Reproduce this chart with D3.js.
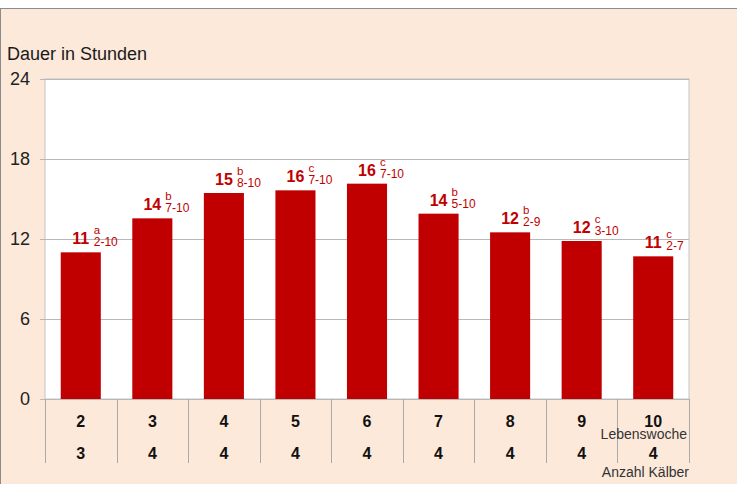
<!DOCTYPE html>
<html>
<head>
<meta charset="utf-8">
<script src="https://cdn.jsdelivr.net/npm/d3@7"></script>
<style>
  body { margin: 0; background: #fff; }
  text { font-family: "Liberation Sans", Arial, sans-serif; }
</style>
</head>
<body>
<div id="chart"></div>
<script>
// data
const weeks = ["2", "3", "4", "5", "6", "7", "8", "9", "10"];
const calves = ["3", "4", "4", "4", "4", "4", "4", "4", "4"];
const hours = [11.0, 13.55, 15.45, 15.65, 16.15, 13.9, 12.5, 11.85, 10.7];
const hourLabels = ["11", "14", "15", "16", "16", "14", "12", "12", "11"];
const letters = ["a", "b", "b", "c", "c", "b", "b", "c", "c"];
const ranges = ["2-10", "7-10", "8-10", "7-10", "7-10", "5-10", "2-9", "3-10", "2-7"];
const yTicks = [0, 6, 12, 18, 24];

const svgWidth = 737;
const svgHeight = 484;
const margin = { top: 79, right: 48, bottom: 85, left: 45 };
const width = svgWidth - margin.left - margin.right;
const height = svgHeight - margin.top - margin.bottom;

const svg = d3.select("#chart")
    .append("svg")
    .attr("width", svgWidth)
    .attr("height", svgHeight);

// peach frame
svg.append("rect")
    .attr("x", 0.5)
    .attr("y", 8.5)
    .attr("width", svgWidth + 2)
    .attr("height", svgHeight)
    .attr("fill", "#FDE9DA")
    .attr("stroke", "#8c8c8c")
    .attr("stroke-width", 1);

svg.append("text")
    .attr("x", 7)
    .attr("y", 60)
    .attr("font-size", "18px")
    .attr("fill", "#1a1a1a")
    .text("Dauer in Stunden");

const g = svg.append("g")
    .attr("transform", `translate(${margin.left},${margin.top})`);

const x = d3.scaleBand()
    .domain(weeks)
    .range([0, width])
    .paddingInner(0.44)
    .paddingOuter(0.22);

const y = d3.scaleLinear()
    .domain([0, 24])
    .range([height, 0]);

// plot area
g.append("rect")
    .attr("width", width)
    .attr("height", height)
    .attr("fill", "#fff")
    .attr("stroke", "#c4c4c4");

// grid
g.selectAll(".grid")
    .data(yTicks)
    .enter().append("line")
    .attr("x1", -5)
    .attr("x2", width)
    .attr("y1", d => Math.round(y(d)) + 0.5)
    .attr("y2", d => Math.round(y(d)) + 0.5)
    .attr("stroke", "#b8b8b8")
    .attr("stroke-width", 1);

g.selectAll(".ylab")
    .data(yTicks)
    .enter().append("text")
    .attr("x", -15)
    .attr("y", d => y(d))
    .attr("dy", "0.36em")
    .attr("text-anchor", "end")
    .attr("font-size", "18px")
    .attr("fill", "#222")
    .text(d => d);

// bars
g.selectAll(".bar")
    .data(hours)
    .enter().append("rect")
    .attr("x", (d, i) => x(weeks[i]))
    .attr("y", d => y(d))
    .attr("width", x.bandwidth())
    .attr("height", d => height - y(d))
    .attr("fill", "#C00000");

// value labels
const lab = g.selectAll(".lab")
    .data(hours)
    .enter().append("g")
    .attr("transform", (d, i) => `translate(${x(weeks[i]) + x.bandwidth() / 2},${y(d)})`);

lab.append("text")
    .attr("y", -8)
    .attr("text-anchor", "middle")
    .attr("font-size", "16px")
    .attr("font-weight", "bold")
    .attr("fill", "#C00000")
    .text((d, i) => hourLabels[i]);

lab.append("text")
    .attr("x", 13)
    .attr("y", -18)
    .attr("font-size", "11.5px")
    .attr("fill", "#C00000")
    .text((d, i) => letters[i]);

lab.append("text")
    .attr("x", 13)
    .attr("y", -6)
    .attr("font-size", "12px")
    .attr("fill", "#C00000")
    .text((d, i) => ranges[i]);

// category table below
const step = width / weeks.length;
g.selectAll(".sep")
    .data(d3.range(weeks.length + 1))
    .enter().append("line")
    .attr("x1", d => Math.round(d * step) + 0.5)
    .attr("x2", d => Math.round(d * step) + 0.5)
    .attr("y1", height)
    .attr("y2", height + 64)
    .attr("stroke", "#aaa");

g.selectAll(".week")
    .data(weeks)
    .enter().append("text")
    .attr("x", (d, i) => (i + 0.5) * step)
    .attr("y", height + 22)
    .attr("dy", "0.36em")
    .attr("text-anchor", "middle")
    .attr("font-size", "16px")
    .attr("font-weight", "bold")
    .attr("fill", "#111")
    .text(d => d);

g.selectAll(".calf")
    .data(calves)
    .enter().append("text")
    .attr("x", (d, i) => (i + 0.5) * step)
    .attr("y", height + 54)
    .attr("dy", "0.36em")
    .attr("text-anchor", "middle")
    .attr("font-size", "16px")
    .attr("font-weight", "bold")
    .attr("fill", "#111")
    .text(d => d);

g.append("text")
    .attr("x", width - 2)
    .attr("y", height + 35)
    .attr("dy", "0.36em")
    .attr("text-anchor", "end")
    .attr("font-size", "14px")
    .attr("fill", "#333")
    .text("Lebenswoche");

g.append("text")
    .attr("x", width)
    .attr("y", height + 73)
    .attr("dy", "0.36em")
    .attr("text-anchor", "end")
    .attr("font-size", "14px")
    .attr("fill", "#333")
    .text("Anzahl Kälber");
</script>
</body>
</html>
